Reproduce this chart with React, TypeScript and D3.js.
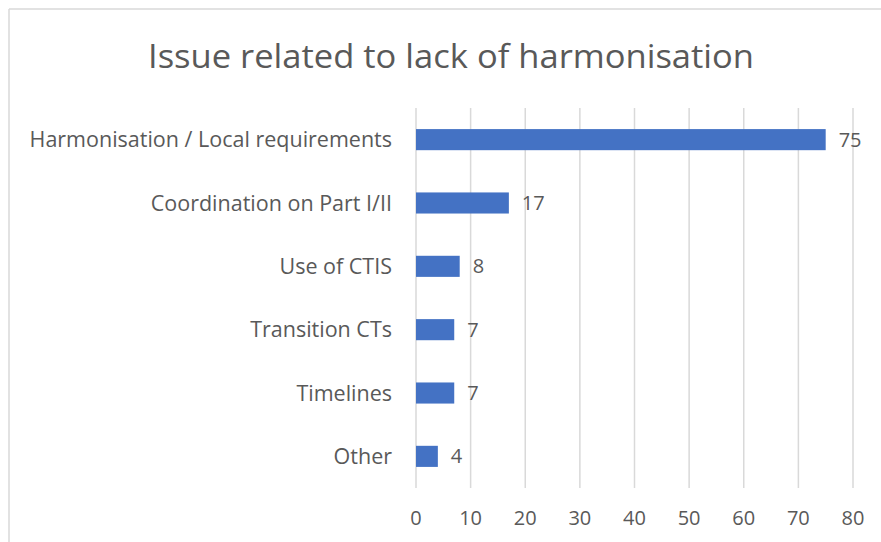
import React from "react";
import * as d3 from "d3";

const title = "Issue related to lack of harmonisation";
const categories = [
  "Harmonisation / Local requirements",
  "Coordination on Part I/II",
  "Use of CTIS",
  "Transition CTs",
  "Timelines",
  "Other",
];
const values = [75, 17, 8, 7, 7, 4];
const xTicks = [0, 10, 20, 30, 40, 50, 60, 70, 80];

const W = 881;
const H = 542;
const FONT = "'Open Sans', 'Noto Sans', sans-serif";
const TEXT = "#595959";
const GRID = "#d9d9d9";
const BAR = "#4472C4";

export default function App() {
  const x = d3.scaleLinear().domain([0, 80]).range([416, 853]);
  const y = d3
    .scaleBand<string>()
    .domain(categories)
    .range([108, 488])
    .paddingInner(0.667)
    .paddingOuter(0.333);

  return (
    <div style={{ position: "fixed", left: 0, top: 0 }}>
      <svg width={W} height={H} style={{ display: "block", background: "#fff" }}>
        <rect x={0} y={0} width={W} height={H} fill="#fff" />
        <line x1={9} y1={9} x2={W} y2={9} stroke={GRID} strokeWidth={1.5} />
        <line x1={9} y1={9} x2={9} y2={H} stroke={GRID} strokeWidth={1.5} />

        <text
          x={451}
          y={68}
          textAnchor="middle"
          fontFamily={FONT}
          fontSize={32}
          fill={TEXT}
          textLength={606}
          lengthAdjust="spacingAndGlyphs"
        >
          {title}
        </text>

        {xTicks.map((t) => (
          <g key={t}>
            <line x1={x(t)} x2={x(t)} y1={108} y2={488} stroke={GRID} strokeWidth={1.5} />
            <text
              x={x(t)}
              y={525}
              textAnchor="middle"
              fontFamily={FONT}
              fontSize={20}
              fill={TEXT}
            >
              {t}
            </text>
          </g>
        ))}

        {categories.map((c, i) => {
          const by = y(c)!;
          const bh = y.bandwidth();
          const cy = by + bh / 2;
          return (
            <g key={c}>
              <rect x={x(0)} y={by} width={x(values[i]) - x(0)} height={bh} fill={BAR} />
              <text
                x={392}
                y={cy}
                dy="0.35em"
                textAnchor="end"
                fontFamily={FONT}
                fontSize={21.5}
                fill={TEXT}
              >
                {c}
              </text>
              <text
                x={x(values[i]) + 13}
                y={cy}
                dy="0.35em"
                fontFamily={FONT}
                fontSize={20}
                fill={TEXT}
              >
                {values[i]}
              </text>
            </g>
          );
        })}
      </svg>
    </div>
  );
}
